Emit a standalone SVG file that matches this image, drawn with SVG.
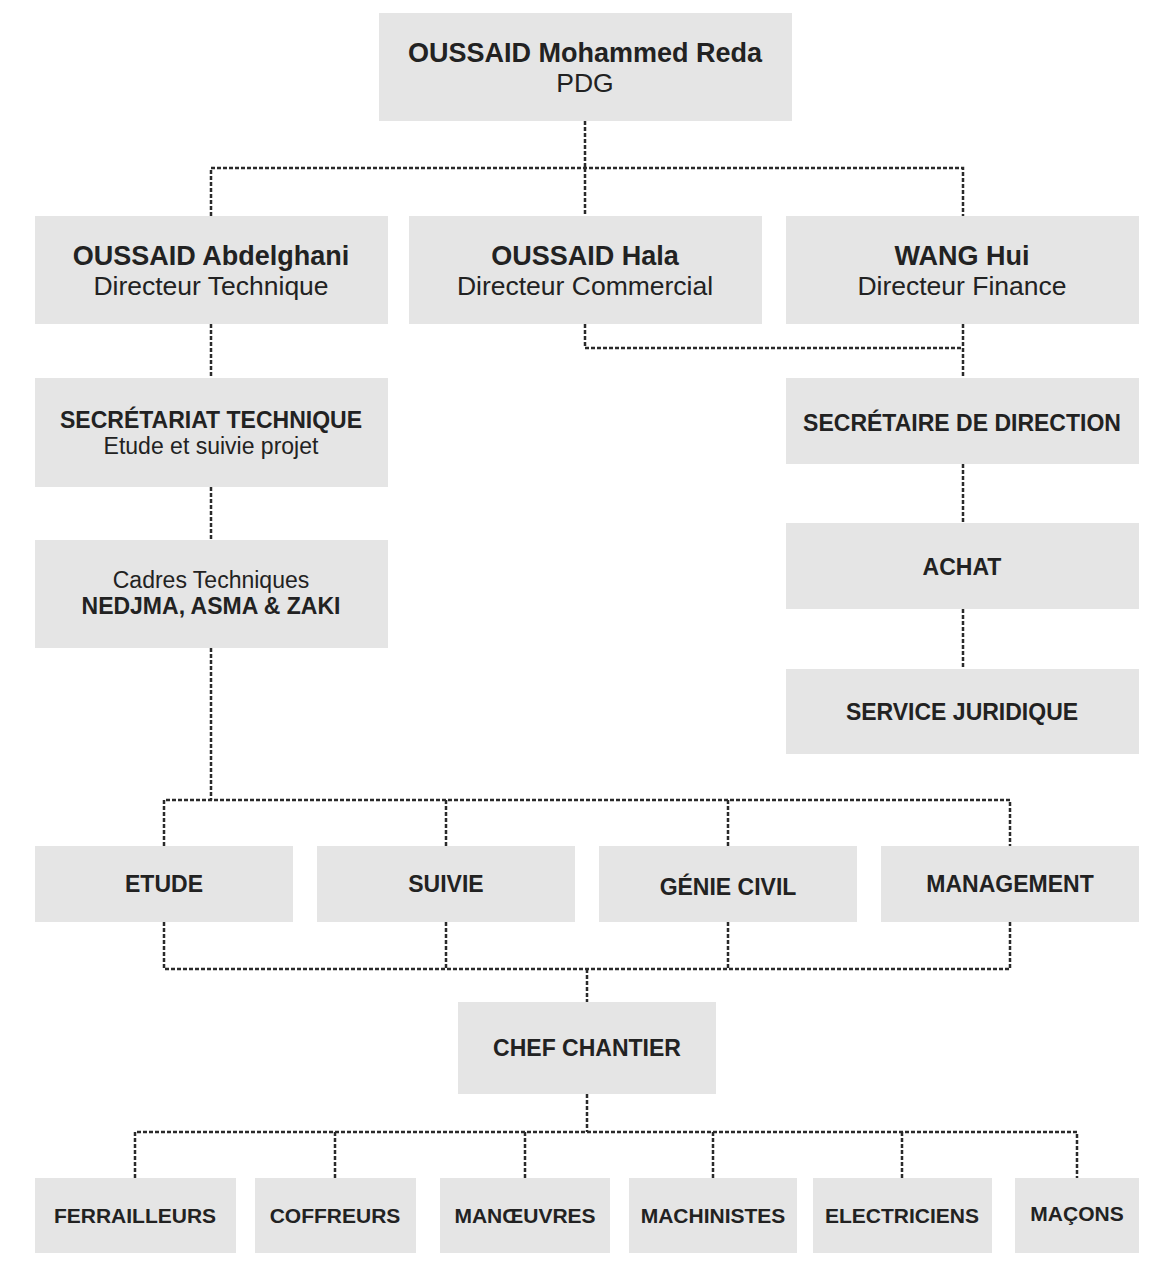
<svg xmlns="http://www.w3.org/2000/svg" width="1151" height="1274" viewBox="0 0 1151 1274">
  <style>
    .box { fill: #e5e5e5; }
    .t { font-family: "Liberation Sans", Arial, sans-serif; fill: #222; text-anchor: middle; }
    .b27 { font-size: 27px; font-weight: bold; }
    .r27 { font-size: 26.5px; }
    .b23 { font-size: 23px; font-weight: bold; }
    .r23 { font-size: 23px; }
    .b21 { font-size: 21px; font-weight: bold; }
    .link { fill: none; stroke: #2a2a2a; stroke-width: 2.5; stroke-dasharray: 4 2; }
  </style>
  <rect width="1151" height="1274" fill="#ffffff"/>

  <!-- connectors -->
  <g id="connectors" class="link">
    <path d="M585 121 V168 M211 216 V168 H963 V216 M585 168 V216"/>
    <path d="M585 324 V348 H963 M963 324 V378"/>
    <path d="M211 324 V378 M211 487 V540 M211 648 V800"/>
    <path d="M963 464 V523 M963 609 V669"/>
    <path d="M164 846 V800 H1010 V846 M446 800 V846 M728 800 V846"/>
    <path d="M164 922 V969 H1010 V922 M446 922 V969 M728 922 V969 M587 969 V1002"/>
    <path d="M587 1094 V1132 M135 1178 V1132 H1077 V1178 M335 1132 V1178 M525 1132 V1178 M713 1132 V1178 M902 1132 V1178"/>
  </g>

  <!-- top management -->
  <g id="pdg">
    <rect class="box" x="379" y="13" width="413" height="108"/>
    <text class="t b27" x="585" y="62">OUSSAID Mohammed Reda</text>
    <text class="t r27" x="585" y="92">PDG</text>
  </g>
  <g id="dir-technique">
    <rect class="box" x="35" y="216" width="353" height="108"/>
    <text class="t b27" x="211" y="265">OUSSAID Abdelghani</text>
    <text class="t r27" x="211" y="295">Directeur Technique</text>
  </g>
  <g id="dir-commercial">
    <rect class="box" x="409" y="216" width="353" height="108"/>
    <text class="t b27" x="585" y="265">OUSSAID Hala</text>
    <text class="t r27" x="585" y="295">Directeur Commercial</text>
  </g>
  <g id="dir-finance">
    <rect class="box" x="786" y="216" width="353" height="108"/>
    <text class="t b27" x="962" y="265">WANG Hui</text>
    <text class="t r27" x="962" y="295">Directeur Finance</text>
  </g>

  <!-- technical branch -->
  <g id="secretariat-technique">
    <rect class="box" x="35" y="378" width="353" height="109"/>
    <text class="t b23" x="211" y="428">SECRÉTARIAT TECHNIQUE</text>
    <text class="t r23" x="211" y="454">Etude et suivie projet</text>
  </g>
  <g id="cadres-techniques">
    <rect class="box" x="35" y="540" width="353" height="108"/>
    <text class="t r23" x="211" y="588">Cadres Techniques</text>
    <text class="t b23" x="211" y="614">NEDJMA, ASMA &amp; ZAKI</text>
  </g>

  <!-- finance branch -->
  <g id="secretaire-direction">
    <rect class="box" x="786" y="378" width="353" height="86"/>
    <text class="t b23" x="962" y="431">SECRÉTAIRE DE DIRECTION</text>
  </g>
  <g id="achat">
    <rect class="box" x="786" y="523" width="353" height="86"/>
    <text class="t b23" x="962" y="575">ACHAT</text>
  </g>
  <g id="service-juridique">
    <rect class="box" x="786" y="669" width="353" height="85"/>
    <text class="t b23" x="962" y="720">SERVICE JURIDIQUE</text>
  </g>

  <!-- departments -->
  <g id="etude">
    <rect class="box" x="35" y="846" width="258" height="76"/>
    <text class="t b23" x="164" y="892">ETUDE</text>
  </g>
  <g id="suivie">
    <rect class="box" x="317" y="846" width="258" height="76"/>
    <text class="t b23" x="446" y="892">SUIVIE</text>
  </g>
  <g id="genie-civil">
    <rect class="box" x="599" y="846" width="258" height="76"/>
    <text class="t b23" x="728" y="895">GÉNIE CIVIL</text>
  </g>
  <g id="management">
    <rect class="box" x="881" y="846" width="258" height="76"/>
    <text class="t b23" x="1010" y="892">MANAGEMENT</text>
  </g>

  <!-- site -->
  <g id="chef-chantier">
    <rect class="box" x="458" y="1002" width="258" height="92"/>
    <text class="t b23" x="587" y="1056">CHEF CHANTIER</text>
  </g>

  <!-- trades -->
  <g id="ferrailleurs">
    <rect class="box" x="35" y="1178" width="201" height="75"/>
    <text class="t b21" x="135" y="1223">FERRAILLEURS</text>
  </g>
  <g id="coffreurs">
    <rect class="box" x="255" y="1178" width="161" height="75"/>
    <text class="t b21" x="335" y="1223">COFFREURS</text>
  </g>
  <g id="manoeuvres">
    <rect class="box" x="440" y="1178" width="170" height="75"/>
    <text class="t b21" x="525" y="1223">MANŒUVRES</text>
  </g>
  <g id="machinistes">
    <rect class="box" x="629" y="1178" width="168" height="75"/>
    <text class="t b21" x="713" y="1223">MACHINISTES</text>
  </g>
  <g id="electriciens">
    <rect class="box" x="813" y="1178" width="179" height="75"/>
    <text class="t b21" x="902" y="1223">ELECTRICIENS</text>
  </g>
  <g id="macons">
    <rect class="box" x="1015" y="1178" width="124" height="75"/>
    <text class="t b21" x="1077" y="1221">MAÇONS</text>
  </g>
</svg>
